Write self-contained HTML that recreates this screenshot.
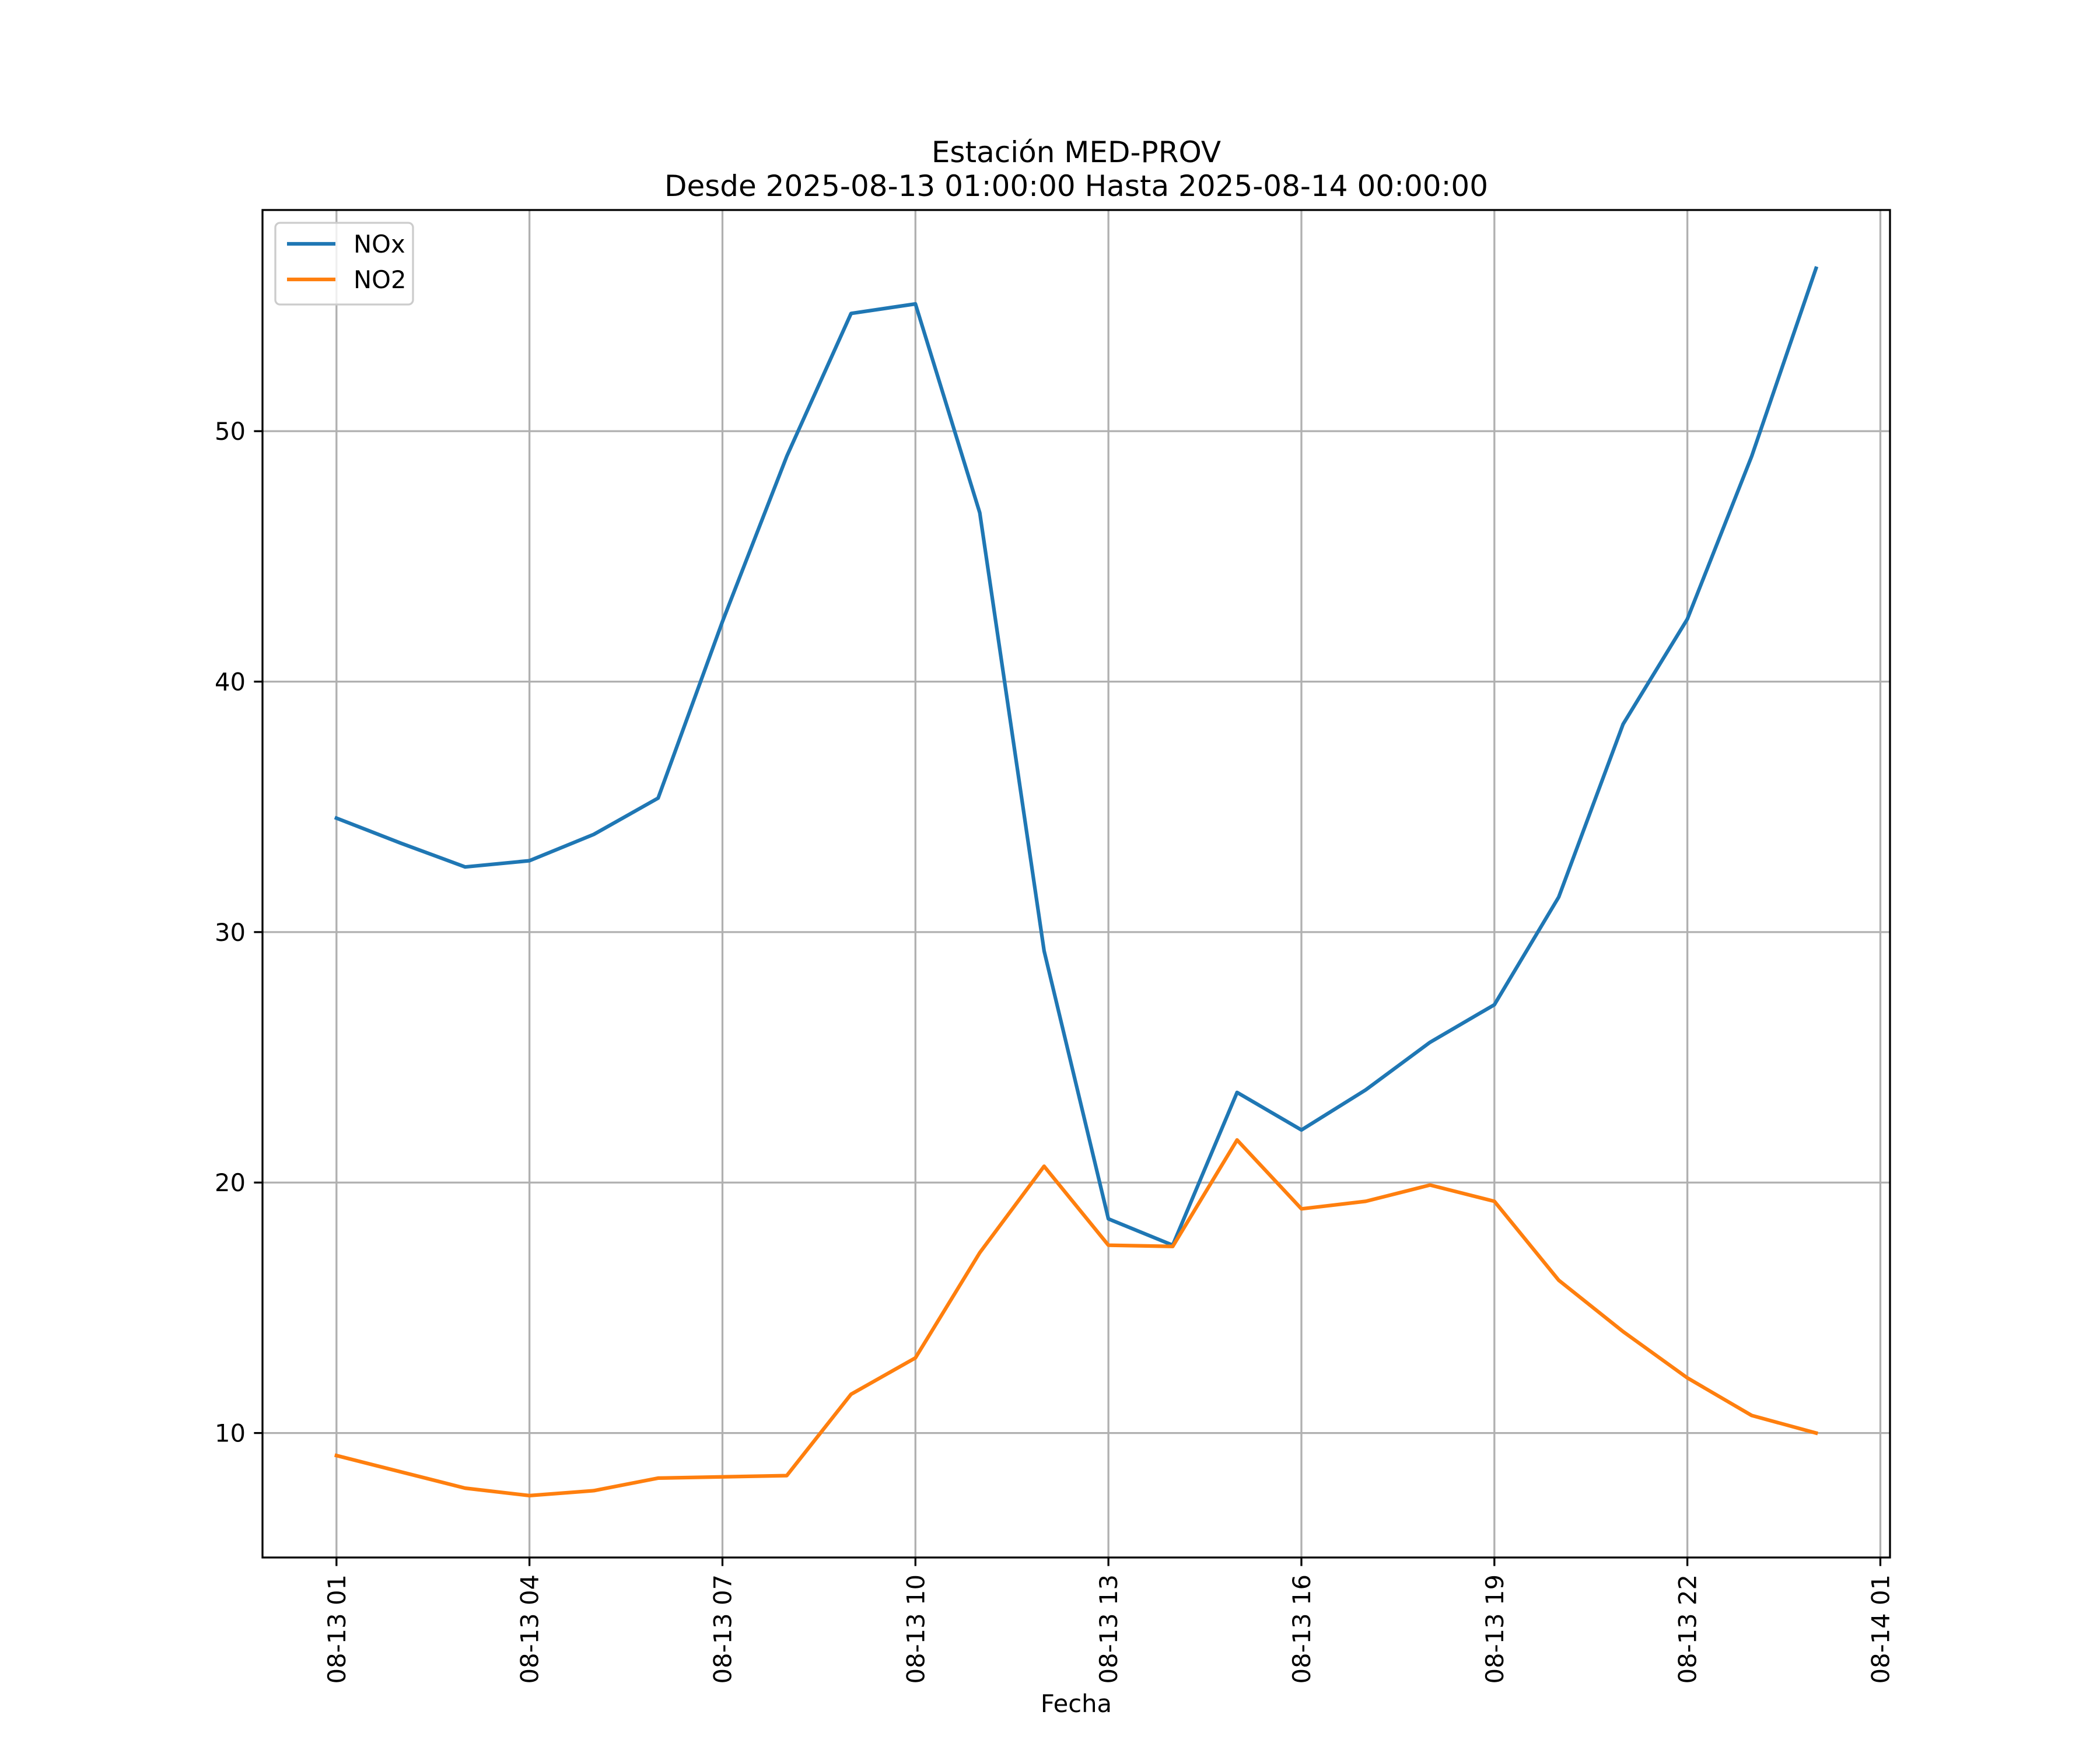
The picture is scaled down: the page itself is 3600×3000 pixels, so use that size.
<!DOCTYPE html>
<html><head><meta charset="utf-8"><style>html,body{margin:0;padding:0;background:#fff}svg{display:block}text{font-family:"DejaVu Sans","Liberation Sans",sans-serif;fill:#000}</style></head>
<body>
<svg id="chart" width="3600" height="3000" viewBox="0 0 3600 3000" xmlns="http://www.w3.org/2000/svg">
<rect width="3600" height="3000" fill="#fff"/>
<text x="1845" y="278" font-size="50" text-anchor="middle">Estación MED-PROV</text>
<text x="1845" y="336" font-size="50" text-anchor="middle">Desde 2025-08-13 01:00:00 Hasta 2025-08-14 00:00:00</text>
<g id="grid"></g>
<g id="series"></g>
<rect x="450" y="360" width="2790" height="2310" fill="none" stroke="#000" stroke-width="3.3"/>
<g id="ticks"></g>
<text x="1845" y="2935" font-size="41.7" text-anchor="middle">Fecha</text>
<g>
<rect x="472" y="382" width="236" height="140" rx="8" fill="#fff" fill-opacity="0.8" stroke="#cccccc" stroke-width="3.3"/>
<line x1="492" y1="418" x2="575" y2="418" stroke="#1f77b4" stroke-width="6.25"/>
<text x="606" y="433" font-size="41.7">NOx</text>
<line x1="492" y1="479" x2="575" y2="479" stroke="#ff7f0e" stroke-width="6.25"/>
<text x="606" y="494" font-size="41.7">NO2</text>
</g>
</svg>
<script>
const hours = [0,1,2,3,4,5,6,7,8,9,10,11,12,13,14,15,16,17,18,19,20,21,22,23];
const noxValues = [34.55,33.55,32.6,32.85,33.9,35.35,42.4,49.0,54.7,55.08,46.74,29.25,18.55,17.5,23.6,22.1,23.7,25.6,27.1,31.4,38.3,42.5,49.0,56.5];
const no2Values = [9.1,8.45,7.8,7.5,7.7,8.2,8.25,8.3,11.55,13.0,17.2,20.65,17.5,17.45,21.7,18.95,19.25,19.9,19.25,16.1,14.05,12.2,10.7,10.0];
const yTicks = [10,20,30,40,50];
const xTickHours = [0,3,6,9,12,15,18,21,24];
const xTickLabels = ["08-13 01","08-13 04","08-13 07","08-13 10","08-13 13","08-13 16","08-13 19","08-13 22","08-14 01"];

const L=450,R=3240,T=360,B=2670;
const xmin=-1.15,xmax=24.15,ymin=5.03,ymax=58.83;
function xs(h){return L+(h-xmin)/(xmax-xmin)*(R-L);}
function ys(v){return B-(v-ymin)/(ymax-ymin)*(B-T);}
const NS="http://www.w3.org/2000/svg";
function mk(tag,attrs,parent){const e=document.createElementNS(NS,tag);for(const k in attrs)e.setAttribute(k,attrs[k]);parent.appendChild(e);return e;}
const grid=document.getElementById('grid'),ticks=document.getElementById('ticks'),series=document.getElementById('series');
xTickHours.forEach((h,i)=>{
  const x=xs(h);
  const g=mk('line',{x1:x,y1:T,x2:x,y2:B,stroke:'#b0b0b0','stroke-width':3.3},grid);
  
  
  const t=mk('line',{x1:x,y1:B,x2:x,y2:B+14.6,stroke:'#000','stroke-width':3.3},ticks);
  
  
  const tx=mk('text',{x:0,y:0,'font-size':41.7,'text-anchor':'end',transform:`translate(${x+15},${B+29}) rotate(-90)`},ticks);
  tx.textContent=xTickLabels[i];
  
  
});
yTicks.forEach(v=>{
  const y=ys(v);
  const g=mk('line',{x1:L,y1:y,x2:R,y2:y,stroke:'#b0b0b0','stroke-width':3.3},grid);
  
  
  const t=mk('line',{x1:L-14.6,y1:y,x2:L,y2:y,stroke:'#000','stroke-width':3.3},ticks);
  
  
  const tx=mk('text',{x:L-29,y:y+15,'font-size':41.7,'text-anchor':'end'},ticks);
  tx.textContent=String(v);
  
  
});
function line(vals,color,name){
  const pts=hours.map((h,i)=>xs(h).toFixed(1)+','+ys(vals[i]).toFixed(1)).join(' ');
  const p=mk('polyline',{points:pts,fill:'none',stroke:color,'stroke-width':6.25,'stroke-linejoin':'round','stroke-linecap':'square'},series);
  
  
}
line(noxValues,'#1f77b4','nox-line');
line(no2Values,'#ff7f0e','no2-line');
</script>
</body></html>
